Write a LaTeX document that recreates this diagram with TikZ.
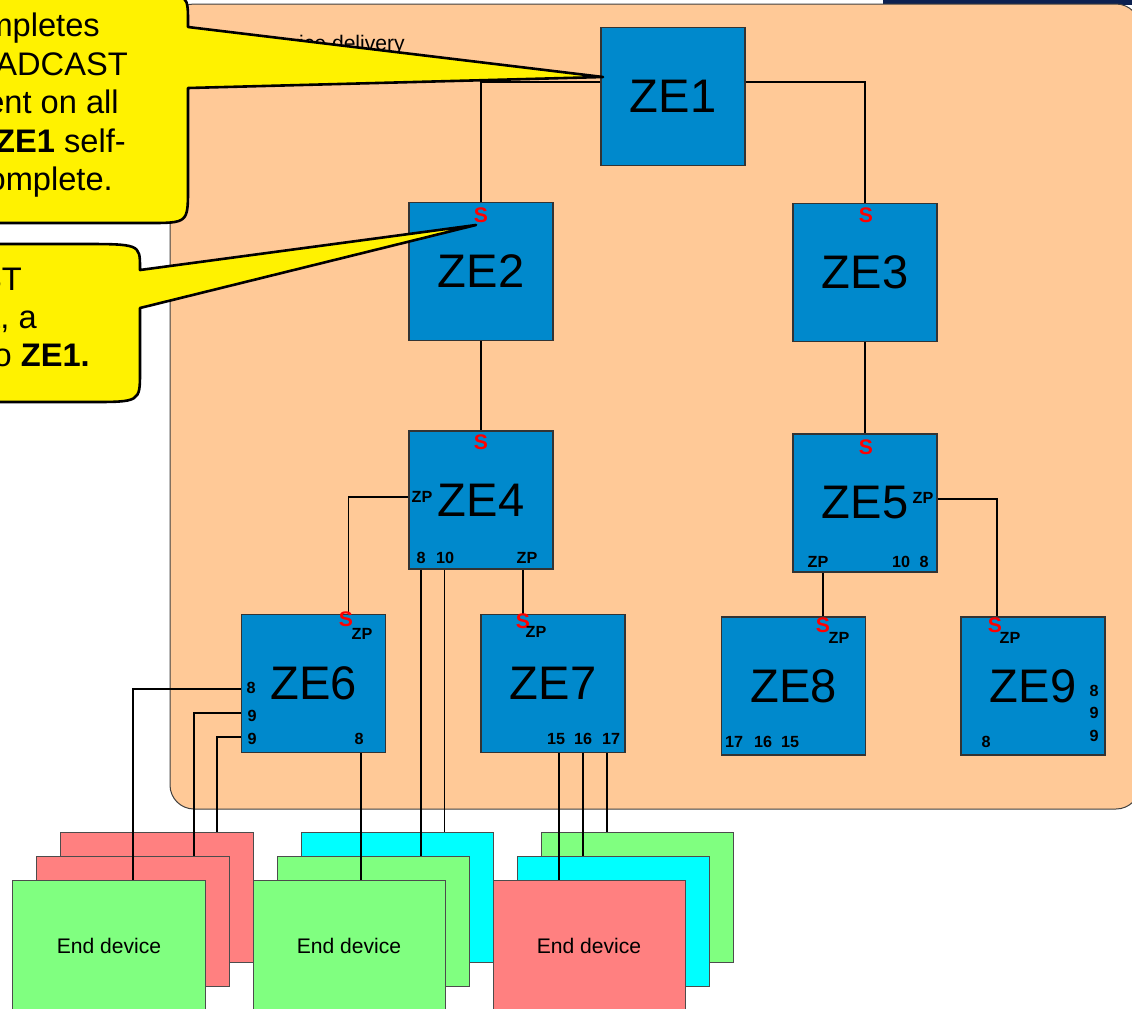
\documentclass[tikz,border=0pt]{standalone}
\usepackage{fontspec}
\setmainfont{Liberation Sans}
\definecolor{peach}{RGB}{255,201,151}
\definecolor{zeblue}{RGB}{0,137,204}
\definecolor{edred}{RGB}{255,128,128}
\definecolor{edgreen}{RGB}{128,255,128}
\definecolor{edcyan}{RGB}{0,255,255}
\definecolor{navybar}{RGB}{12,32,80}
\begin{document}
\begin{tikzpicture}[x=0.25mm,y=-0.25mm,
  zebox/.style={draw=black!80, line width=0.3mm, fill=zeblue, minimum width=36mm, minimum height=34.5mm, inner sep=0pt, font=\fontsize{33.5}{40}\selectfont},
  port/.style={font=\bfseries\fontsize{11.5}{13}\selectfont, inner sep=0pt},
  sport/.style={text=red, font=\bfseries\fontsize{15}{17}\selectfont, inner sep=0pt},
  conn/.style={line width=0.37mm, black},
  edbox/.style={draw=black!70, line width=0.25mm, minimum width=48mm, minimum height=32.5mm, inner sep=0pt, font=\fontsize{15}{18}\selectfont},
  callout/.style={draw=black, line width=0.65mm, fill=yellow, line join=round},
  ctext/.style={font=\fontsize{23.2}{27.4}\selectfont, inner sep=0pt, anchor=base east}]
\useasboundingbox (0,0) rectangle (1132,1008);
\clip (0,0) rectangle (1132,1008);
\fill[white] (0,0) rectangle (1132,1008);
% top bar and background panel
\fill[navybar] (883,0) rectangle (1132,5);
\draw[draw=black!75, line width=0.25mm, fill=peach, rounded corners=6mm] (170,4) rectangle (1140,809);
\node[anchor=base east, font=\fontsize{15}{18}\selectfont, inner sep=0pt] (svc) at (405,50) {Service delivery};

% ZE boxes
\node[zebox] (ze1) at (673,96.5) {ZE1};
\node[zebox] (ze2) at (481,271.5) {ZE2};
\node[zebox] (ze3) at (865,272.5) {ZE3};
\node[zebox] (ze4) at (481,500) {ZE4};
\node[zebox] (ze5) at (865,503) {ZE5};
\node[zebox] (ze6) at (313.5,683.5) {ZE6};
\node[zebox] (ze7) at (553,683.5) {ZE7};
\node[zebox] (ze8) at (793.5,686) {ZE8};
\node[zebox] (ze9) at (1033,686) {ZE9};

% tree connectors
\draw[conn] ([yshift=3.625mm]ze1.west) -| (ze2.north);
\draw[conn] ([yshift=3.625mm]ze1.east) -| (ze3.north);
\draw[conn] (ze2.south) -- (ze4.north);
\draw[conn] (ze3.south) -- (ze5.north);
\draw[conn] ([yshift=0.75mm]ze4.west) -| ([xshift=8.75mm]ze6.north);
\draw[conn] ([xshift=-7.5mm]ze7.north) -- ([xshift=-7.5mm]ze7.north |- ze4.south);
\draw[conn] ([yshift=1mm]ze5.east) -| ([xshift=-9mm]ze9.north);
\draw[conn] ([xshift=7.375mm]ze8.north) -- ([xshift=7.375mm]ze8.north |- ze5.south);

% S labels
\node[sport] (s2) at (481,215) {S};
\node[sport] (s3) at (866,215) {S};
\node[sport] (s4) at (481,442) {S};
\node[sport] (s5) at (866,447) {S};
\node[sport] (s6) at (346,619) {S};
\node[sport] (s7) at (523,621) {S};
\node[sport] (s8) at (823,625) {S};
\node[sport] (s9) at (995,625) {S};

% port labels
\node[port] (p4a) at (422,497) {ZP};
\node[port] (p4b) at (421,558) {8};
\node[port] (p4c) at (445,558) {10};
\node[port] (p4d) at (527,558) {ZP};
\node[port] (p5a) at (923,498) {ZP};
\node[port] (p5b) at (818,562) {ZP};
\node[port] (p5c) at (901,562) {10};
\node[port] (p5d) at (924,562) {8};
\node[port] (p6a) at (362,634) {ZP};
\node[port] (p6b) at (251,688) {8};
\node[port] (p6c) at (252,716) {9};
\node[port] (p6d) at (252,739) {9};
\node[port] (p6e) at (359,739) {8};
\node[port] (p7a) at (536,632) {ZP};
\node[port] (p7b) at (556,739) {15};
\node[port] (p7c) at (583,739) {16};
\node[port] (p7d) at (611,739) {17};
\node[port] (p8a) at (839,638) {ZP};
\node[port] (p8b) at (734,742) {17};
\node[port] (p8c) at (763,742) {16};
\node[port] (p8d) at (790,742) {15};
\node[port] (p9a) at (1010,638) {ZP};
\node[port] (p9b) at (1094,691) {8};
\node[port] (p9c) at (1094,713) {9};
\node[port] (p9d) at (1094,736) {9};
\node[port] (p9e) at (986,742) {8};

% end device stacks
\node[edbox, fill=edred] (ed1a) at (157,897.5) {};
\node[edbox, fill=edred] (ed1b) at (133,921.5) {};
\node[edbox, fill=edgreen] (ed1c) at (109,945.5) {End device};
\node[edbox, fill=edcyan] (ed2a) at (397,897.5) {};
\node[edbox, fill=edgreen] (ed2b) at (373,921.5) {};
\node[edbox, fill=edgreen] (ed2c) at (349,945.5) {End device};
\node[edbox, fill=edgreen] (ed3a) at (637,897.5) {};
\node[edbox, fill=edcyan] (ed3b) at (613,921.5) {};
\node[edbox, fill=edred] (ed3c) at (589,945.5) {End device};

% device connectors
\draw[conn] ([yshift=-1.375mm]ze6.west) -| ([xshift=6mm]ed1c.north);
\draw[conn] ([yshift=-7.375mm]ze6.west) -| ([xshift=15.25mm]ed1b.north);
\draw[conn] ([yshift=-13.375mm]ze6.west) -| ([xshift=15mm]ed1a.north);
\draw[conn] ([xshift=11.875mm]ze6.south) -- ([xshift=11.875mm]ze6.south |- ed2c.north);
\draw[conn] ([xshift=-15mm]ze4.south) -- ([xshift=-15mm]ze4.south |- ed2b.north);
\draw[conn] ([xshift=-9.125mm]ze4.south) -- ([xshift=-9.125mm]ze4.south |- ed2a.north);
\draw[conn] ([xshift=1.5mm]ze7.south) -- ([xshift=1.5mm]ze7.south |- ed3c.north);
\draw[conn] ([xshift=7.5mm]ze7.south) -- ([xshift=7.5mm]ze7.south |- ed3b.north);
\draw[conn] ([xshift=13.5mm]ze7.south) -- ([xshift=13.5mm]ze7.south |- ed3a.north);

% callouts
\draw[callout] (-40,-5) -- (155,-5) .. controls (188,-5) .. (188,23) -- (188,27) -- (603,77) -- (188,88) -- (188,188) .. controls (188,223) .. (148,223) -- (-40,223) -- cycle;
\node[ctext] (c1a) at (100,36.5) {mpletes};
\node[ctext] (c1b) at (128,75) {ADCAST};
\node[ctext] (c1c) at (119,113.5) {ent on all};
\node[ctext] (c1d) at (126,152) {\textbf{ZE1} self-};
\node[ctext] (c1e) at (113,190.5) {omplete.};

\draw[callout] (-40,244) -- (80,244) .. controls (140,244) .. (140,268) -- (140,270) -- (476,225) -- (140,308) -- (140,372) .. controls (140,402) .. (90,402) -- (-40,402) -- cycle;
\node[ctext] (c2a) at (22,290) {ST};
\node[ctext] (c2b) at (37,328) {t, a};
\node[ctext] (c2c) at (90,366) {o \textbf{ZE1.}};
\end{tikzpicture}
\end{document}
